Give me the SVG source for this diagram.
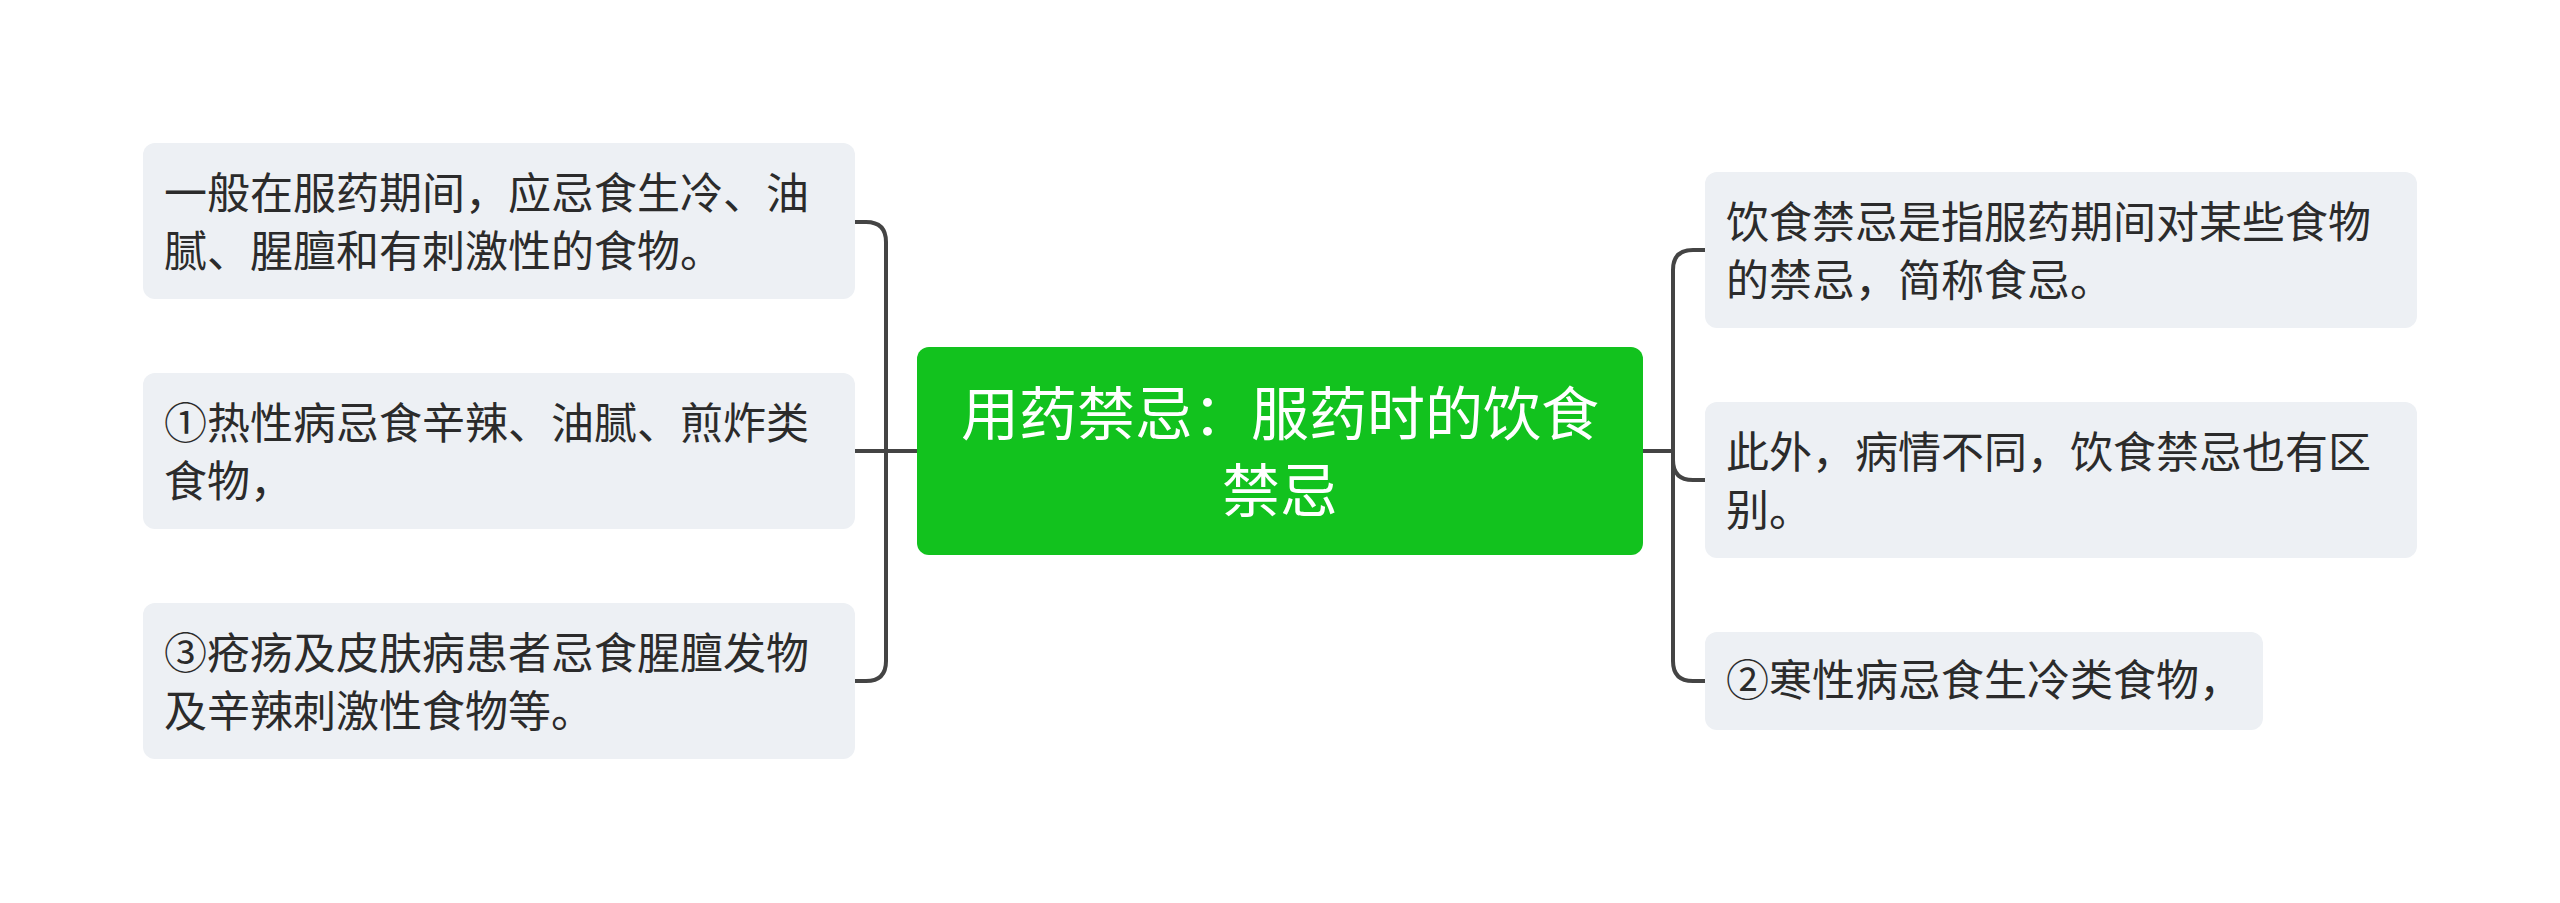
<svg xmlns="http://www.w3.org/2000/svg" width="2560" height="903" viewBox="0 0 2560 903">
<style>
.sub rect{fill:#EDF0F4;}
.sub text{font-family:"Noto Sans CJK SC","Noto Sans",sans-serif;font-size:43px;fill:#2b2b2b;}
.root rect{fill:#12C21E;}
.root text{font-family:"Noto Sans CJK SC","Noto Sans",sans-serif;font-size:58px;fill:#ffffff;text-anchor:middle;}
.conn path{fill:none;stroke:#444444;stroke-width:4;}
</style>
<rect width="2560" height="903" fill="#ffffff"/>
<g class="conn" id="connectors">
<path d="M917,451 H855"/>
<path d="M886,451 V242 Q886,222 866,222 H855"/>
<path d="M886,451 V661 Q886,681 866,681 H855"/>
<path d="M1643,451 H1673"/>
<path d="M1673,451 V270 Q1673,250 1693,250 H1705"/>
<path d="M1673,451 V460 Q1673,480 1693,480 H1705"/>
<path d="M1673,451 V661 Q1673,681 1693,681 H1705"/>
</g>
<g class="root" id="root">
<rect x="917" y="347" width="726" height="208" rx="12"/>
<text x="1280" y="435">用药禁忌：服药时的饮食</text>
<text x="1280" y="512">禁忌</text>
</g>
<g class="sub" id="left1">
<rect x="143" y="143" width="712" height="156" rx="12"/>
<text x="164" y="209">一般在服药期间，应忌食生冷、油</text>
<text x="164" y="267">腻、腥膻和有刺激性的食物。</text>
</g>
<g class="sub" id="left2">
<rect x="143" y="373" width="712" height="156" rx="12"/>
<text x="164" y="439">①热性病忌食辛辣、油腻、煎炸类</text>
<text x="164" y="497">食物，</text>
</g>
<g class="sub" id="left3">
<rect x="143" y="603" width="712" height="156" rx="12"/>
<text x="164" y="669">③疮疡及皮肤病患者忌食腥膻发物</text>
<text x="164" y="727">及辛辣刺激性食物等。</text>
</g>
<g class="sub" id="right1">
<rect x="1705" y="172" width="712" height="156" rx="12"/>
<text x="1726" y="238">饮食禁忌是指服药期间对某些食物</text>
<text x="1726" y="296">的禁忌，简称食忌。</text>
</g>
<g class="sub" id="right2">
<rect x="1705" y="402" width="712" height="156" rx="12"/>
<text x="1726" y="468">此外，病情不同，饮食禁忌也有区</text>
<text x="1726" y="526">别。</text>
</g>
<g class="sub" id="right3">
<rect x="1705" y="632" width="558" height="98" rx="12"/>
<text x="1726" y="696">②寒性病忌食生冷类食物，</text>
</g>
</svg>
